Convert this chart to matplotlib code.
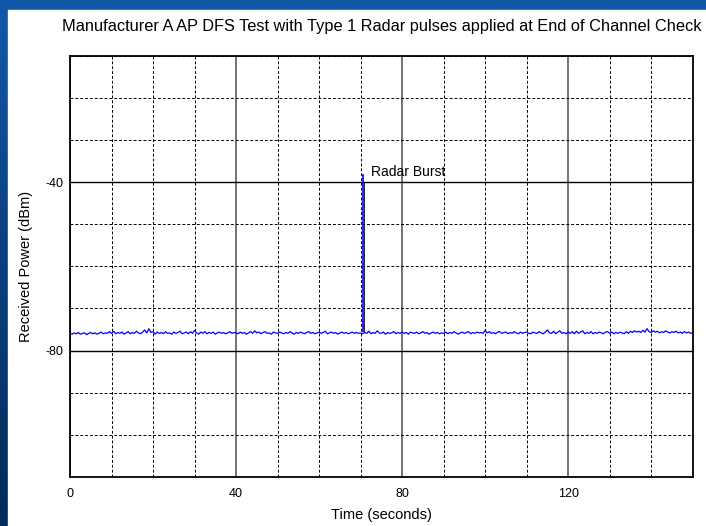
import numpy as np
import matplotlib.pyplot as plt
from matplotlib.ticker import MultipleLocator
from matplotlib.patches import Rectangle
from matplotlib.colors import LinearSegmentedColormap

plt.rcParams['font.family'] = ['Liberation Sans', 'DejaVu Sans']
plt.rcParams['axes.unicode_minus'] = False

# received power samples, every 0.5 s from 0 to 150 s (dBm)
power = [
    -75.9, -76.1, -75.8, -76.0, -75.7, -76.1, -75.9, -75.8, -76.2, -75.9, -75.7, -76.0, -75.8, -76.1, -75.9, -75.6, -76.0, -75.8, -75.9, -75.5,
    -75.9, -75.4, -76.0, -75.7, -75.9, -75.6, -76.1, -75.8, -75.5, -76.0, -75.7, -75.9, -75.4, -75.8, -76.0, -75.6, -75.1, -75.8, -74.8, -75.7,
    -75.5, -76.1, -75.6, -75.9, -75.7, -76.0, -75.5, -75.9, -75.8, -76.1, -75.6, -75.9, -75.7, -75.4, -76.0, -75.8, -75.6, -76.0, -75.5, -75.9,
    -75.2, -75.8, -76.1, -75.6, -75.9, -75.5, -76.0, -75.7, -75.9, -75.6, -76.1, -75.8, -75.6, -75.9, -75.7, -76.0, -75.8, -75.5, -75.9, -75.7,
    -75.8, -76.0, -75.6, -75.9, -75.7, -76.1, -75.8, -75.5, -75.9, -75.3, -75.8, -75.6, -76.0, -75.7, -75.5, -75.9, -75.8, -76.1, -75.6, -75.8,
    -75.9, -75.6, -75.8, -76.0, -75.7, -75.9, -75.5, -75.8, -76.1, -75.7, -75.9, -75.6, -75.8, -76.0, -75.7, -75.5, -75.9, -75.7, -76.0, -75.8,
    -75.6, -75.9, -75.7, -75.4, -76.0, -75.8, -75.6, -75.9, -75.7, -76.1, -75.8, -75.6, -75.9, -75.7, -76.0, -75.8, -75.6, -75.9, -75.7, -75.9,
    -75.8, -76.0, -75.7, -75.9, -75.4, -76.0, -75.7, -75.9, -75.3, -75.8, -75.9, -75.6, -76.1, -75.7, -75.9, -75.8, -75.5, -76.0, -75.7, -75.9,
    -75.6, -75.9, -75.7, -76.1, -75.6, -75.8, -75.9, -75.6, -76.0, -75.8, -75.5, -75.9, -75.7, -76.1, -75.8, -75.6, -75.9, -75.7, -76.0, -75.8,
    -75.9, -75.6, -76.0, -75.7, -75.9, -75.5, -75.8, -76.1, -75.8, -75.6, -75.9, -75.7, -75.5, -76.0, -75.7, -75.9, -75.6, -75.8, -75.7, -75.9,
    -75.2, -75.8, -75.5, -75.9, -75.7, -76.0, -75.6, -75.5, -75.9, -75.7, -75.6, -76.0, -75.7, -75.9, -75.5, -75.8, -76.0, -75.6, -75.9, -75.7,
    -75.6, -75.9, -76.0, -75.6, -75.8, -75.9, -75.5, -75.8, -76.0, -75.6, -75.1, -75.8, -75.9, -75.4, -76.0, -75.6, -75.3, -75.9, -75.7, -76.0,
    -75.6, -75.9, -75.5, -76.0, -75.4, -75.9, -75.6, -75.3, -76.0, -75.7, -75.9, -75.5, -76.0, -75.7, -75.9, -75.6, -75.8, -76.0, -75.6, -75.5,
    -75.9, -75.6, -76.0, -75.7, -75.9, -75.6, -75.8, -76.0, -75.5, -75.9, -75.4, -75.7, -75.3, -75.6, -75.4, -75.7, -75.2, -75.6, -74.8, -75.5,
    -75.7, -75.3, -75.6, -75.4, -75.8, -75.5, -75.7, -75.3, -75.6, -75.8, -75.5, -75.7, -75.4, -75.8, -75.6, -75.9, -75.5, -75.8, -75.6, -75.9,
    -75.7,
]
time = np.arange(len(power)) * 0.5

burst_time = 70.5
burst_peak = -38.1
burst_base = -75.7
burst_label = 'Radar Burst'

fig = plt.figure(figsize=(7.06, 5.26), dpi=100)

# blue slide background with white panel
bg = fig.add_axes([0, 0, 1, 1], zorder=-2)
grad = np.linspace(0, 1, 256).reshape(-1, 1)
slide = LinearSegmentedColormap.from_list('slide', ['#1258a8', '#0b3f7e', '#002b57'])
bg.imshow(grad, aspect='auto', cmap=slide, extent=[0, 1, 0, 1])
bg.add_patch(Rectangle((8 / 706, 0), 1, 1 - 10 / 526, color='white', transform=bg.transAxes))
bg.set_axis_off()

ax = fig.add_axes([70 / 706, 1 - 477 / 526, 622.7 / 706, 421.3 / 526])
ax.plot(time, power, color='#0000ff', lw=0.9)
ax.vlines(burst_time, burst_base, burst_peak, color='#0000ff', lw=1.2)
ax.vlines(burst_time + 0.35, burst_base, -40, color='k', lw=0.6)
ax.text(burst_time + 1.9, burst_peak + 0.5, burst_label, fontsize=10, va='center', ha='left')

ax.set_xlim(0, 150)
ax.set_ylim(-110, -10)
ax.xaxis.set_major_locator(MultipleLocator(40))
ax.xaxis.set_minor_locator(MultipleLocator(10))
ax.yaxis.set_major_locator(MultipleLocator(40))
ax.yaxis.set_minor_locator(MultipleLocator(10))
ax.tick_params(which='both', length=0, labelsize=9)
ax.tick_params(axis='x', pad=8)
ax.tick_params(axis='y', pad=5)
ax.xaxis.grid(True, which='major', color='0.45', lw=1.4, ls='-')
ax.yaxis.grid(True, which='major', color='k', lw=1.0, ls='-')
ax.grid(True, which='minor', color='k', lw=0.7, ls=(0, (3, 2)))
ax.set_axisbelow(True)
for s in ax.spines.values():
    s.set_linewidth(1.3)

ax.set_xlabel('Time (seconds)', fontsize=10.5)
ax.set_ylabel('Received Power (dBm)', fontsize=10.5)
ax.xaxis.set_label_coords(0.5, -0.074)
ax.yaxis.set_label_coords(-0.059, 0.5)

fig.text(382 / 706, 1 - 27 / 526, 'Manufacturer A AP DFS Test with Type 1 Radar pulses applied at End of Channel Check',
         fontsize=11.8, ha='center', va='center')

fig.savefig('out.png', dpi=100)
